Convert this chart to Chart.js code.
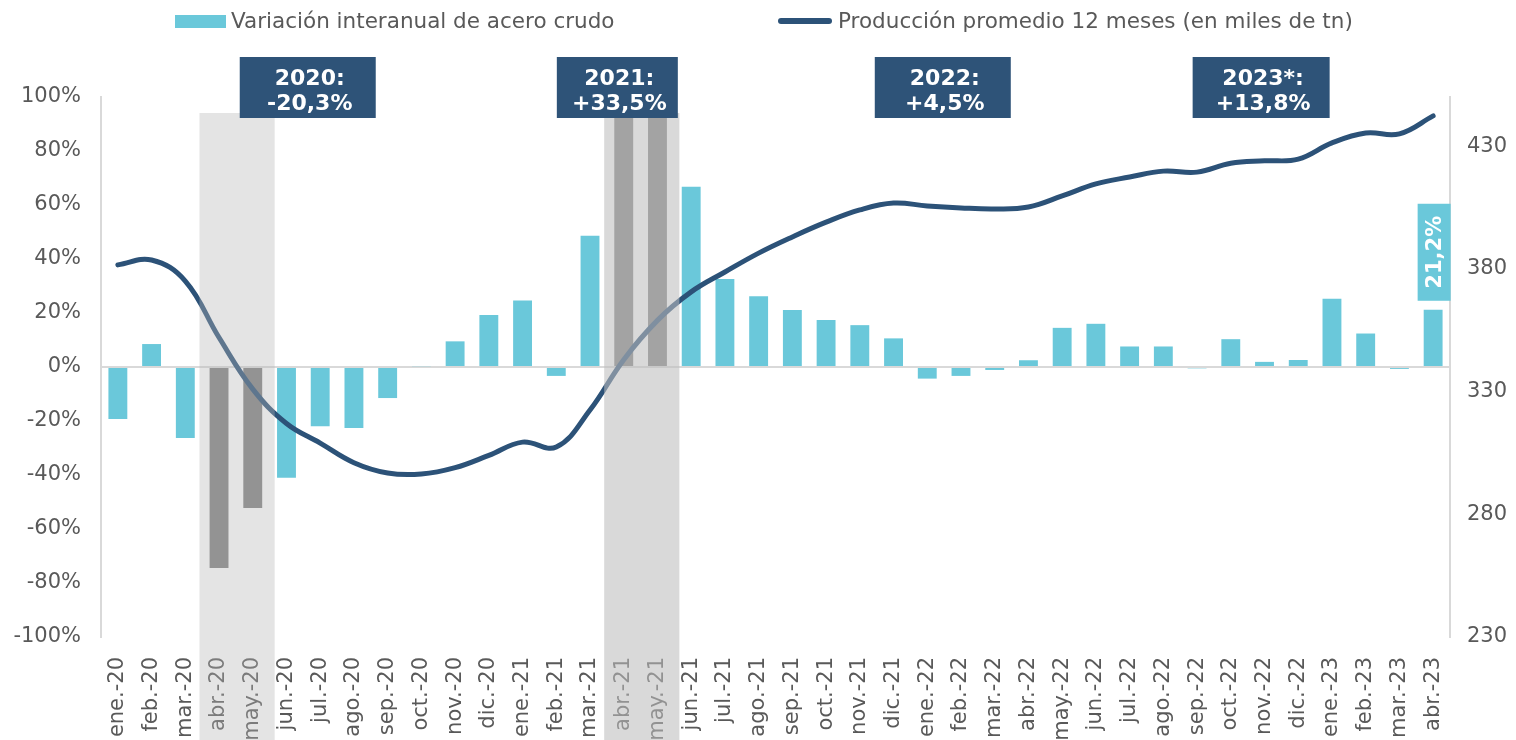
<!DOCTYPE html>
<html lang="es">
<head>
<meta charset="utf-8">
<title>Acero crudo</title>
<script src="https://cdn.jsdelivr.net/npm/chart.js@4.4.1/dist/chart.umd.min.js"></script>
<style>
  html, body { margin: 0; padding: 0; background: #fff; }
</style>
</head>
<body>
<canvas id="chart" width="1516" height="740"></canvas>
<script>
"use strict";
const months = [
    "ene.-20", "feb.-20", "mar.-20", "abr.-20", "may.-20", "jun.-20", "jul.-20", "ago.-20", "sep.-20", "oct.-20", "nov.-20", "dic.-20",
    "ene.-21", "feb.-21", "mar.-21", "abr.-21", "may.-21", "jun.-21", "jul.-21", "ago.-21", "sep.-21", "oct.-21", "nov.-21", "dic.-21",
    "ene.-22", "feb.-22", "mar.-22", "abr.-22", "may.-22", "jun.-22", "jul.-22", "ago.-22", "sep.-22", "oct.-22", "nov.-22", "dic.-22",
    "ene.-23", "feb.-23", "mar.-23", "abr.-23"
];
// variación interanual (%)
const variacion = [
    -19.3, 8.5, -26.3, -74.4, -52.2, -41.0, -21.9, -22.6, -11.5, 0.3, 9.5, 19.3,
    24.6, -3.3, 48.6, 290, 110, 66.8, 32.6, 26.2, 21.1, 17.4, 15.5, 10.6,
    -4.3, -3.3, -1.1, 2.5, 14.5, 16.0, 7.6, 7.6, -0.5, 10.3, 1.9, 2.6,
    25.3, 12.4, -0.7, 21.2
];
// producción promedio 12 meses (miles de tn)
const promedio = [
    381.6, 383.6, 375, 352, 331, 317, 309, 301, 296.8, 296.4, 299, 304,
    309.4, 307.4, 322.5, 343, 359, 370.6, 378.7, 386.4, 393, 399, 404, 406.8,
    405.6, 404.8, 404.4, 405.2, 409.7, 414.6, 417.4, 419.8, 419.4, 423, 424, 424.7,
    431.3, 435.3, 435, 442.3
];
const rightTicks = [230, 280, 330, 380, 430];
const yearTitles = ["2020:", "2021:", "2022:", "2023*:"];
const yearChanges = ["-20,3%", "+33,5%", "+4,5%", "+13,8%"];
const shadedMonths = [["abr.-20", "may.-20"], ["abr.-21", "may.-21"]];
const lastLabel = "21,2%";
const seriesNames = ["Variación interanual de acero crudo", "Producción promedio 12 meses (en miles de tn)"];

const FONT = "'DejaVu Sans', Verdana, sans-serif";
const CYAN = "#6ac8da";
const NAVY = "#2c5278";
const TEXT = "#595959";
const AXIS = "#d9d9d9";

const shadedIdx = shadedMonths.map(r => [months.indexOf(r[0]), months.indexOf(r[1])]);
function isShaded(i) {
    return shadedIdx.some(r => i >= r[0] && i <= r[1]);
}

// overlays, year boxes, bar label and legend
const extrasPlugin = {
    id: "extras",
    afterDraw(chart) {
        const ctx = chart.ctx;
        const x = chart.scales.x;
        const step = x.width / months.length;
        const overlayColors = ["rgba(182,182,182,0.37)", "rgba(189,189,189,0.575)"];
        ctx.save();
        shadedIdx.forEach((r, k) => {
            const left = x.getPixelForValue(r[0]) - 0.58 * step;
            const right = x.getPixelForValue(r[1]) + 0.65 * step;
            ctx.fillStyle = overlayColors[k];
            ctx.fillRect(left, 113, right - left, chart.height - 113);
        });

        // year summary boxes
        const boxPos = [5.63, 14.81, 24.46, 33.9];
        const boxW = [136, 121, 136, 137];
        ctx.textAlign = "center";
        ctx.textBaseline = "middle";
        ctx.font = "bold 22px " + FONT;
        yearTitles.forEach((t, i) => {
            const cx = x.getPixelForValue(boxPos[i]);
            ctx.fillStyle = "#2e5378";
            ctx.fillRect(cx - boxW[i] / 2, 57, boxW[i], 61);
            ctx.fillStyle = "#ffffff";
            ctx.fillText(t, cx + 2, 79);
            ctx.fillText(yearChanges[i], cx + 2, 104);
        });

        // rotated label on the last bar
        const bar = chart.getDatasetMeta(0).data[months.length - 1];
        const bx = bar.x + 1;
        const bBottom = bar.y - 9;
        ctx.fillStyle = CYAN;
        ctx.fillRect(bx - 16.5, bBottom - 97, 33, 97);
        ctx.translate(bx + 1, bBottom - 48.5);
        ctx.rotate(-Math.PI / 2);
        ctx.fillStyle = "#ffffff";
        ctx.font = "bold 21px " + FONT;
        ctx.fillText(lastLabel, 0, 0);
        ctx.restore();

        // legend
        ctx.save();
        ctx.font = "21.5px " + FONT;
        ctx.textBaseline = "middle";
        ctx.textAlign = "left";
        ctx.fillStyle = CYAN;
        ctx.fillRect(175, 15, 51, 13);
        ctx.fillStyle = TEXT;
        ctx.fillText(seriesNames[0], 231, 22);
        ctx.strokeStyle = NAVY;
        ctx.lineWidth = 6;
        ctx.lineCap = "round";
        ctx.beginPath();
        ctx.moveTo(781, 21);
        ctx.lineTo(829, 21);
        ctx.stroke();
        ctx.fillText(seriesNames[1], 838, 22);
        ctx.restore();
    }
};

new Chart(document.getElementById("chart"), {
    data: {
        labels: months,
        datasets: [
            {
                type: "bar",
                label: seriesNames[0],
                data: variacion,
                yAxisID: "y",
                order: 1,
                backgroundColor: c => isShaded(c.dataIndex) ? "#7f7f7f" : CYAN,
                categoryPercentage: 1,
                barPercentage: 0.56
            },
            {
                type: "line",
                label: seriesNames[1],
                data: promedio,
                yAxisID: "y2",
                order: 0,
                borderColor: NAVY,
                borderWidth: 5,
                borderCapStyle: "round",
                pointRadius: 0,
                tension: 0.4,
                fill: false
            }
        ]
    },
    options: {
        responsive: false,
        devicePixelRatio: 1,
        animation: false,
        layout: { padding: { top: 97, left: 0, right: 0, bottom: 0 } },
        plugins: { legend: { display: false }, tooltip: { enabled: false } },
        scales: {
            x: {
                type: "category",
                offset: true,
                grid: { display: false },
                border: { display: false },
                ticks: {
                    color: TEXT,
                    font: { family: FONT, size: 21 },
                    minRotation: 90,
                    maxRotation: 90,
                    autoSkip: false,
                    padding: 12
                },
                afterFit: s => { s.height = 103; }
            },
            y: {
                position: "left",
                min: -100,
                max: 100,
                grid: {
                    drawTicks: false,
                    lineWidth: 2,
                    color: c => (c.tick && c.tick.value === 0) ? AXIS : "rgba(0,0,0,0)"
                },
                border: { display: true, color: AXIS, width: 2 },
                ticks: {
                    stepSize: 20,
                    color: TEXT,
                    font: { family: FONT, size: 21 },
                    padding: 20,
                    callback: v => v + "%"
                },
                afterFit: s => { s.width = 101; }
            },
            y2: {
                position: "right",
                min: 230,
                max: 450,
                grid: { display: false, drawTicks: false },
                border: { display: true, color: AXIS, width: 2 },
                afterBuildTicks: s => { s.ticks = rightTicks.map(v => ({ value: v })); },
                ticks: {
                    color: TEXT,
                    font: { family: FONT, size: 21 },
                    padding: 17
                },
                afterFit: s => { s.width = 66; }
            }
        }
    },
    plugins: [extrasPlugin]
});
</script>
</body>
</html>
